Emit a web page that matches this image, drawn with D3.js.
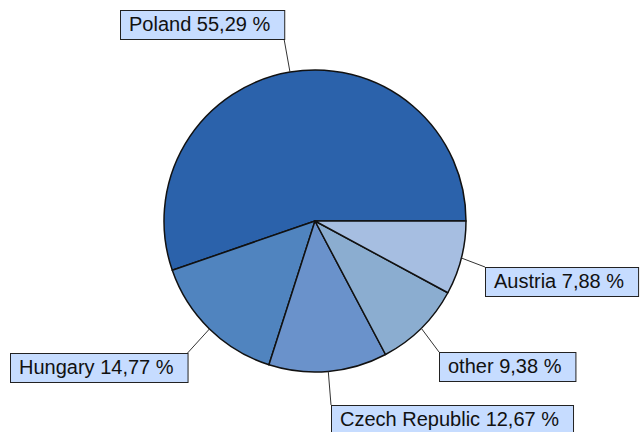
<!DOCTYPE html>
<html>
<head>
<meta charset="utf-8">
<script src="https://cdn.jsdelivr.net/npm/d3@7"></script>
<style>
  body { margin: 0; background: #ffffff; }
  svg { display: block; }
</style>
</head>
<body>
<script>
// data
const countries = ["Poland", "Hungary", "Czech Republic", "other", "Austria"];
const shares = [55.29, 14.77, 12.67, 9.38, 7.88];
const sliceColors = ["#2b62ab", "#5084bf", "#6a92cb", "#8badd0", "#a6bee1"];

// label box placement (top-left corner) and which corner the leader meets
const labelBoxes = [
  { x: 120, y: 10, corner: "bottomRight" },
  { x: 10, y: 353, corner: "topRight" },
  { x: 331, y: 405, corner: "topLeft" },
  { x: 439, y: 352, corner: "topLeft" },
  { x: 485, y: 267, corner: "topLeft" }
];

const width = 640;
const height = 432;
const cx = 315;
const cy = 221;
const radius = 151;
const fontSize = 20;
const boxHeight = 29;

const svg = d3.select("body")
  .append("svg")
  .attr("width", width)
  .attr("height", height);

const data = countries.map((c, i) => ({ name: c, value: shares[i], color: sliceColors[i], box: labelBoxes[i] }));

// slices start at 3 o'clock and run counter-clockwise
const pie = d3.pie()
  .sort(null)
  .value(d => d.value)
  .startAngle(Math.PI / 2)
  .endAngle(Math.PI / 2 - 2 * Math.PI);

const arc = d3.arc().innerRadius(0).outerRadius(radius);
const arcs = pie(data);

const pie_g = svg.append("g").attr("transform", `translate(${cx},${cy})`);

pie_g.selectAll("path")
  .data(arcs)
  .enter().append("path")
  .attr("d", arc)
  .attr("fill", d => d.data.color)
  .attr("stroke", "#111111")
  .attr("stroke-width", 1.5)
  .attr("stroke-linejoin", "round");

// labels
const label_g = svg.append("g");

const fmt = v => v.toFixed(2).replace(".", ",") + " %";

arcs.forEach(a => {
  const b = a.data.box;
  const text = label_g.append("text")
    .attr("x", b.x + 9)
    .attr("y", b.y + 21)
    .attr("font-family", "Liberation Sans, Arial, sans-serif")
    .attr("font-size", fontSize)
    .attr("fill", "#111111")
    .text(`${a.data.name} ${fmt(a.data.value)}`);

  const boxWidth = text.node().getComputedTextLength() + 23;

  label_g.insert("rect", "text")
    .attr("x", b.x + 0.5)
    .attr("y", b.y + 0.5)
    .attr("width", boxWidth)
    .attr("height", boxHeight)
    .attr("fill", "#c6dcff")
    .attr("stroke", "#222222")
    .attr("stroke-width", 1);

  // leader from slice edge at mid angle to the box corner
  const mid = (a.startAngle + a.endAngle) / 2;
  const sx = cx + radius * Math.sin(mid);
  const sy = cy - radius * Math.cos(mid);
  const ex = b.corner.endsWith("Right") ? b.x + boxWidth : b.x;
  const ey = b.corner.startsWith("bottom") ? b.y + boxHeight + 1 : b.y;

  label_g.append("line")
    .attr("x1", sx).attr("y1", sy)
    .attr("x2", ex).attr("y2", ey)
    .attr("stroke", "#333333")
    .attr("stroke-width", 1);
});
</script>
</body>
</html>
